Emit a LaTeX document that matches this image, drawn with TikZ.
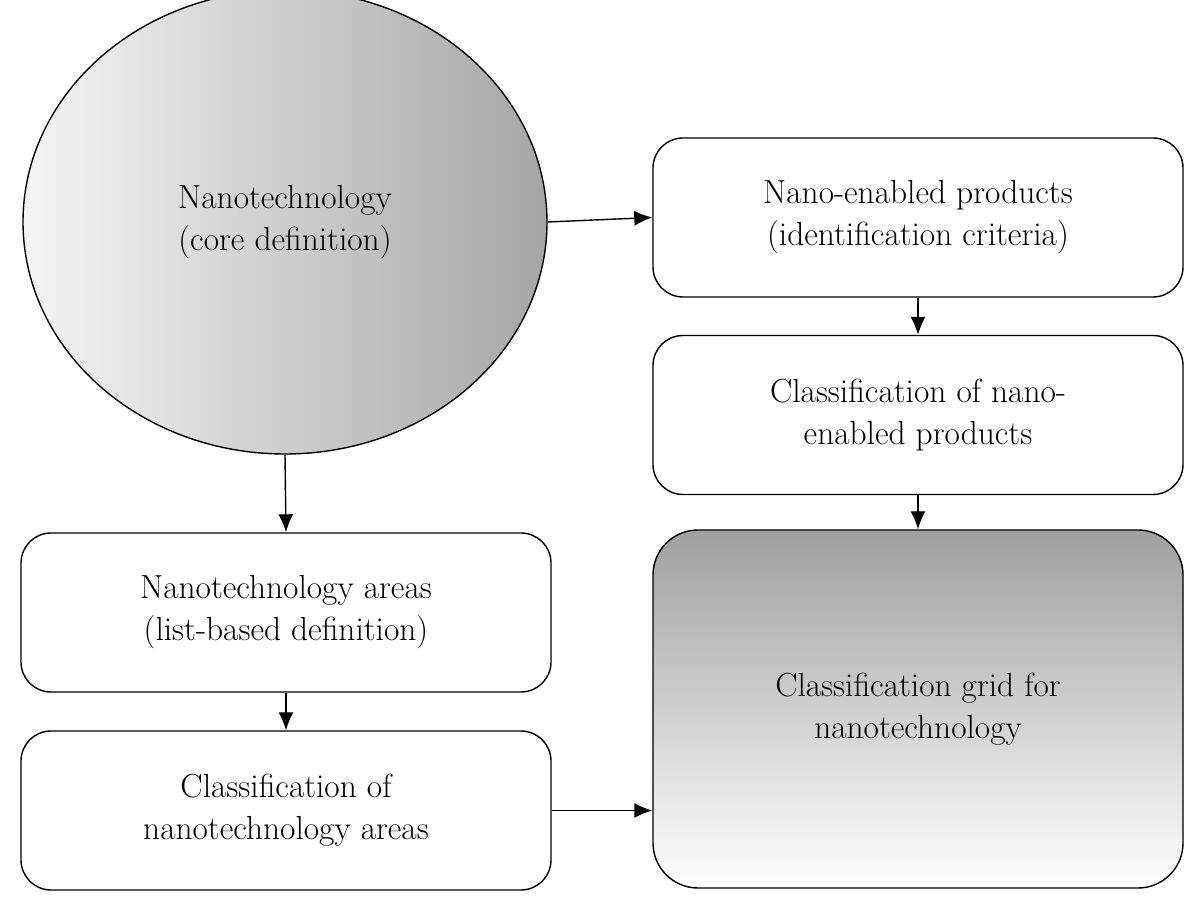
\documentclass[tikz,border=0pt]{standalone}
\usepackage{tikz}
\usetikzlibrary{positioning}
\usetikzlibrary{shapes.geometric}
\usetikzlibrary{arrows.meta}

\begin{document}
\begin{tikzpicture}[%
    x=1cm, y=1cm,
    font=\fontsize{19}{24}\selectfont,
cnode/.style={ellipse, align=center, draw=black, thick, minimum width=10.48cm, minimum height=9.28cm, left color=gray!8, right color=gray!70},
boxnode/.style={rectangle, rounded corners=0.6cm, align=center, draw=black, thick, fill=white, minimum width=10.6cm, minimum height=3.18cm},
gridnode/.style={rectangle, rounded corners=0.9cm, align=center, draw=black, thick, minimum width=10.6cm, minimum height=7.16cm, top color=gray!75, bottom color=white},
arr/.style={->, >={Latex[length=0.36cm, width=0.3cm]}, thick}
]
\useasboundingbox (0,0) rectangle (23.9,18.3);

% core node
\node[cnode]      (core)     at (5.7,13.86) {Nanotechnology\\ (core definition)};

% product Nodes
\node[boxnode]    (products)  at (18.36,13.95) {Nano-enabled products\\ (identification criteria)};
\node[boxnode]    (prodclass) at (18.36,10.0)  {Classification of nano-\\ enabled products};
\node[gridnode]   (grid)      at (18.36,4.12)  {Classification grid for\\ nanotechnology};

% area Nodes
\node[boxnode]    (areas)     at (5.72,6.05) {Nanotechnology areas\\ (list-based definition)};
\node[boxnode]    (areaclass) at (5.72,2.09) {Classification of\\ nanotechnology areas};

% Lines
\draw[arr] (core.east) -- (products.west);
\draw[arr] (products.south) -- (prodclass.north);
\draw[arr] (prodclass.south) -- (grid.north);
\draw[arr] (core.south) -- (areas.north);
\draw[arr] (areas.south) -- (areaclass.north);
\draw[arr] (areaclass.east) -- (areaclass.east -| grid.west);

\end{tikzpicture}
\end{document}
